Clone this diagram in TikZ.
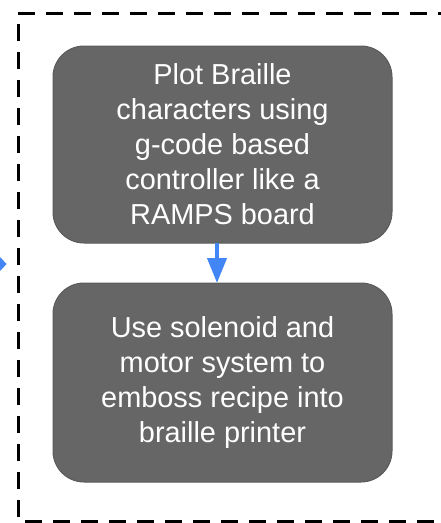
\documentclass[tikz,border=0pt]{standalone}
\usepackage{fontspec}
\setmainfont{Liberation Sans}
\usetikzlibrary{arrows.meta}
\definecolor{boxfill}{HTML}{666666}
\definecolor{boxline}{HTML}{5B5B5B}
\definecolor{flowblue}{HTML}{4285F4}
\tikzset{
  stepbox/.style={draw=boxline, line width=1pt, fill=boxfill, rounded corners=31pt,
    minimum width=339pt, inner sep=0pt, outer sep=0pt},
  boxtext/.style={text=white, align=center, inner sep=0pt, anchor=north,
    font=\fontsize{28.9}{35}\selectfont},
  frame/.style={draw=black, line width=3pt, line cap=butt, dash pattern=on 17pt off 11pt},
  flow/.style={draw=flowblue, line width=4pt,
    -{Triangle[length=25pt 0 0, width=19pt 0 0]}},
  inflow/.style={draw=flowblue, line width=4pt,
    -{Triangle[length=12pt 0 0, width=24pt 0 0]}}
}
\begin{document}
\begin{tikzpicture}[x=1pt, y=-1pt]
  \useasboundingbox (0,0) rectangle (440,523);
  % dashed group frame (its right side lies beyond the page)
  \draw[frame] (18,13.5) -- (445,13.5)
               (18.5,24) -- (18.5,525)
               (25,521.5) -- (445,521.5);
  % process steps
  \node[stepbox, minimum height=197pt] (plot) at (222.5,144.5) {};
  \node[stepbox, minimum height=199pt] (emboss) at (222.5,382.5) {};
  \node[boxtext] (plottxt) at (222.5,63.3)
    {Plot Braille\\characters using\\g-code based\\controller like a\\RAMPS board};
  \node[boxtext] (embosstxt) at (222.5,316.5)
    {Use solenoid and\\motor system to\\emboss recipe into\\braille printer};
  % flow between the steps
  \draw[flow] ([xshift=-5.5pt]plot.south) -- ([xshift=-5.5pt]emboss.north);
  % incoming flow from the previous group
  \coordinate (inStart) at (-30,264);
  \coordinate (inEnd) at (6.7,264);
  \draw[inflow] (inStart) -- (inEnd);
\end{tikzpicture}
\end{document}
